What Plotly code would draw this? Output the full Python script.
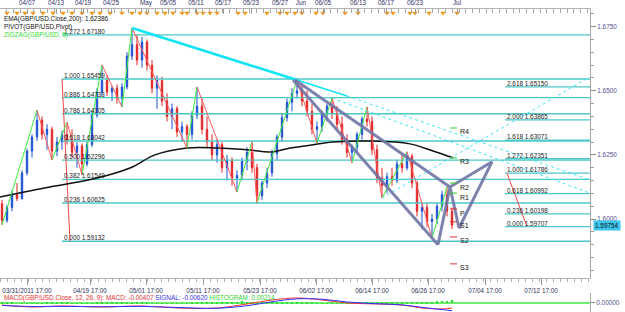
import plotly.graph_objects as go

# ---------------- data ----------------
bar_idx = list(range(91))
opens = [1.6060,1.5995,1.6045,1.6095,1.6080,1.6180,1.6265,1.6320,1.6385,1.6330,
         1.6350,1.6265,1.6300,1.6330,1.6305,1.6260,1.6285,1.6215,1.6290,1.6405,
         1.6495,1.6540,1.6495,1.6510,1.6470,1.6515,1.6635,1.6680,1.6620,1.6690,
         1.6600,1.6510,1.6540,1.6460,1.6400,1.6430,1.6340,1.6360,1.6330,1.6405,
         1.6440,1.6350,1.6300,1.6250,1.6290,1.6200,1.6230,1.6160,1.6170,1.6225,
         1.6260,1.6200,1.6090,1.6140,1.6180,1.6255,1.6320,1.6395,1.6455,1.6490,
         1.6500,1.6460,1.6420,1.6350,1.6360,1.6410,1.6440,1.6410,1.6370,1.6310,
         1.6260,1.6280,1.6330,1.6390,1.6380,1.6270,1.6160,1.6130,1.6165,1.6150,
         1.6215,1.6200,1.6245,1.6140,1.6030,1.6045,1.5990,1.6000,1.6050,1.6095,1.6030]
highs = [1.6075,1.6055,1.6110,1.6140,1.6190,1.6275,1.6330,1.6425,1.6400,1.6370,
         1.6360,1.6320,1.6345,1.6378,1.6350,1.6300,1.6295,1.6300,1.6420,1.6510,
         1.6601,1.6560,1.6520,1.6525,1.6530,1.6650,1.6745,1.6720,1.6710,1.6700,
         1.6620,1.6560,1.6555,1.6490,1.6450,1.6440,1.6380,1.6370,1.6420,1.6515,
         1.6470,1.6400,1.6330,1.6310,1.6300,1.6250,1.6240,1.6190,1.6240,1.6280,
         1.6300,1.6215,1.6150,1.6200,1.6270,1.6330,1.6410,1.6470,1.6510,1.6542,
         1.6530,1.6500,1.6450,1.6380,1.6420,1.6450,1.6472,1.6440,1.6400,1.6330,
         1.6290,1.6340,1.6400,1.6437,1.6400,1.6290,1.6200,1.6180,1.6200,1.6230,
         1.6250,1.6262,1.6255,1.6150,1.6060,1.6060,1.6020,1.6060,1.6110,1.6125,1.6045]
lows = [1.5977,1.5985,1.6030,1.6070,1.6075,1.6170,1.6240,1.6305,1.6310,1.6270,
        1.6230,1.6245,1.6270,1.6290,1.6240,1.6200,1.6172,1.6205,1.6280,1.6395,
        1.6480,1.6480,1.6460,1.6450,1.6437,1.6505,1.6620,1.6600,1.6590,1.6580,
        1.6490,1.6430,1.6440,1.6380,1.6350,1.6320,1.6300,1.6277,1.6310,1.6390,
        1.6330,1.6280,1.6230,1.6220,1.6180,1.6150,1.6130,1.6106,1.6150,1.6190,
        1.6180,1.6063,1.6075,1.6120,1.6165,1.6230,1.6300,1.6380,1.6420,1.6470,
        1.6440,1.6400,1.6330,1.6296,1.6340,1.6380,1.6390,1.6350,1.6290,1.6240,
        1.6219,1.6260,1.6310,1.6360,1.6250,1.6140,1.6082,1.6100,1.6130,1.6140,
        1.6180,1.6190,1.6120,1.6010,1.5960,1.5970,1.5926,1.5980,1.6030,1.6010,1.5960]
closes = [1.5995,1.6045,1.6095,1.6080,1.6180,1.6265,1.6320,1.6385,1.6330,1.6350,
          1.6265,1.6300,1.6330,1.6305,1.6260,1.6285,1.6215,1.6290,1.6405,1.6495,
          1.6540,1.6495,1.6510,1.6470,1.6515,1.6635,1.6680,1.6620,1.6690,1.6600,
          1.6510,1.6540,1.6460,1.6400,1.6430,1.6340,1.6360,1.6330,1.6405,1.6440,
          1.6350,1.6300,1.6250,1.6290,1.6200,1.6230,1.6160,1.6170,1.6225,1.6260,
          1.6200,1.6090,1.6140,1.6180,1.6255,1.6320,1.6395,1.6455,1.6490,1.6500,
          1.6460,1.6420,1.6350,1.6360,1.6410,1.6440,1.6410,1.6370,1.6310,1.6260,
          1.6280,1.6330,1.6390,1.6380,1.6270,1.6160,1.6130,1.6165,1.6150,1.6215,
          1.6200,1.6245,1.6140,1.6030,1.6045,1.5990,1.6000,1.6050,1.6095,1.6030,1.59754]

zz_idx = [0, 7, 10, 13, 16, 20, 24, 26, 37, 39, 47, 50, 51, 59, 63, 66, 70, 73, 76, 81, 86, 89]
zz_val = [1.5977, 1.6425, 1.6230, 1.6378, 1.6172, 1.6601, 1.6437, 1.6745, 1.6277, 1.6515, 1.6106,
          1.6300, 1.6063, 1.6542, 1.6296, 1.6472, 1.6219, 1.6437, 1.6082, 1.6262, 1.5926, 1.6125]

ema_idx = [-0.4, 9.6, 18.2, 25.6, 30.6, 37, 43, 49.6, 53.6, 57.6, 60.6, 66.2, 74.2, 81.6, 86.2, 90.2]
ema_val = [1.6086, 1.6125, 1.6156, 1.6199, 1.6250, 1.6277, 1.6277, 1.6269, 1.6261, 1.6277,
           1.6285, 1.6300, 1.6304, 1.6293, 1.6265, 1.62386]

fib_left_ratio = ["0.000", "0.236", "0.382", "0.500", "0.618", "0.786", "0.886", "1.000", "1.272"]
fib_left_price = [1.59132, 1.60625, 1.61549, 1.62296, 1.63042, 1.64105, 1.64733, 1.65459, 1.67180]
fib_left_start = 12
fib_left_anchor_idx = [12, 13.6]

fib_right_ratio = ["0.000", "0.236", "0.618", "1.000", "1.272", "1.618", "2.000", "2.618"]
fib_right_price = [1.59707, 1.60198, 1.60992, 1.61786, 1.62351, 1.63071, 1.63865, 1.65150]
fib_right_start = 100.6
fib_right_anchor_idx = [101, 105]

trend_idx = [26, 59, 69]
trend_val = [1.6745, 1.6542, 1.6480]
dot_a_idx = [69, 117.6]
dot_a_val = [1.6480, 1.6152]
dot_b_idx = [66, 117.6]
dot_b_val = [1.6472, 1.6101]
dot_up_idx = [76, 117.6]
dot_up_val = [1.6082, 1.6555]

chan_upper_idx = [58.6, 89.6]
chan_upper_val = [1.6542, 1.6125]
chan_lower_idx = [58.2, 87.2]
chan_lower_val = [1.6542, 1.5900]
pattern_idx = [87.2, 89.6, 91.4, 98.0, 89.6]
pattern_val = [1.5900, 1.6125, 1.5965, 1.6223, 1.6125]

pivot_names = ["R4", "R3", "R2", "R1", "P", "S1", "S2", "S3"]
pivot_vals = [1.6355, 1.6238, 1.6140, 1.6101, 1.6039, 1.5989, 1.5930, 1.5825]
pivot_span = [89.6, 91.0]

macd_idx = [0, 6, 12, 20, 28, 35, 43, 49, 54, 59, 64, 69, 75, 80, 84, 88, 90]
macd_val = [-0.0016, -0.0032, -0.0024, -0.0032, -0.0024, -0.0040, -0.0040, -0.0008, 0.0024, 0.0040,
            0.0024, 0.0000, -0.0008, -0.0016, -0.0040, -0.0048, -0.00407]
signal_val = [-0.0020, -0.0028, -0.0027, -0.0030, -0.0027, -0.0036, -0.0042, -0.0022, 0.0010, 0.0033,
              0.0030, 0.0008, -0.0006, -0.0015, -0.0035, -0.0052, -0.00620]
hist_val = [0.0004,0.0003,0.0002,0.0000,-0.0002,-0.0003,-0.0004,-0.0003,-0.0002,0.0001,
            0.0002,0.0003,0.0003,0.0001,-0.0001,-0.0002,-0.0003,-0.0002,-0.0001,0.0001,
            0.0002,0.0003,0.0004,0.0004,0.0003,0.0002,0.0003,0.0004,0.0003,0.0001,
            -0.0001,-0.0003,-0.0004,-0.0004,-0.0003,-0.0004,-0.0003,-0.0001,0.0001,0.0002,
            0.0002,0.0001,0.0002,0.0004,0.0006,0.0008,0.0010,0.0012,0.0013,0.0012,
            0.0011,0.0010,0.0009,0.0009,0.0008,0.0007,0.0006,0.0005,0.0005,0.0004,
            0.0003,0.0002,0.0001,-0.0001,-0.0003,-0.0004,-0.0005,-0.0005,-0.0004,-0.0003,
            -0.0002,-0.0001,0.0000,0.0001,0.0002,0.0003,0.0004,0.0004,0.0003,0.0004,
            0.0005,0.0005,0.0004,0.0005,0.0006,0.0008,0.0010,0.0013,0.0016,0.0019,0.00214]

bottom_tick_idx = [5.0, 17.6, 28.8, 40.2, 51.6, 62.8, 74, 85.2, 96.6, 107.8]
bottom_tick_text = ["03/31/2011 17:00", "04/19 17:00", "05/01 17:00", "05/11 17:00", "05/23 17:00",
                    "06/02 17:00", "06/14 17:00", "06/26 17:00", "07/04 17:00", "07/12 17:00"]
top_tick_idx = [5, 10.8, 16.2, 21.8, 28.8, 33.2, 38.8, 44.2, 49.8, 55.6, 59.8, 64.2, 71.2, 76.8, 82.6, 91]
top_tick_text = ["04/07", "04/13", "04/19", "04/25", "May", "05/05", "05/11", "05/17", "05/23",
                 "05/27", "Jun", "06/05", "06/13", "06/17", "06/23", "Jul"]
event_idx = [1, 3, 4.6, 6.2, 8.2, 10.2, 12.2, 14, 16, 18, 19.6, 21.6, 24, 26, 27.6, 29, 31, 32.6,
             34.2, 36, 37, 39, 40.2, 41.6, 43, 47.2, 48.6, 53, 55.6, 57, 58.6, 60, 62.8, 64.2,
             68.6, 71.2, 77, 78.2, 81.6, 82.6, 85.4, 88.2, 91]

# ---------------- styling ----------------
X_RANGE = [-0.4, 117.6]
FONT = "Liberation Sans"
FS = 6.4
FIB_COLOR = "#4cc8c8"
NAVY = "#3c3c78"

fig = go.Figure()

def seg(xs, ys, color, width, dash="solid", xa="x", ya="y", shape="linear"):
    fig.add_trace(go.Scatter(x=xs, y=ys, mode="lines", xaxis=xa, yaxis=ya,
                             line=dict(color=color, width=width, dash=dash, shape=shape),
                             hoverinfo="skip", showlegend=False))

# fib levels
for p in fib_left_price:
    seg([fib_left_start, X_RANGE[1]], [p, p], FIB_COLOR, 1.3)
for p in fib_right_price:
    seg([fib_right_start, X_RANGE[1]], [p, p], FIB_COLOR, 1.3)
seg(fib_left_anchor_idx, [fib_left_price[7], fib_left_price[0]], "#f04848", 1)
seg(fib_right_anchor_idx, [fib_right_price[3], fib_right_price[0]], "#f04848", 1)

# EMA 200
seg(ema_idx, ema_val, "#111111", 1.5, shape="spline")

# candles
fig.add_trace(go.Candlestick(
    x=bar_idx, open=opens, high=highs, low=lows, close=closes,
    increasing=dict(line=dict(color="#1f50d0", width=1), fillcolor="#1f50d0"),
    decreasing=dict(line=dict(color="#e22424", width=1), fillcolor="#e22424"),
    whiskerwidth=0, hoverinfo="skip", showlegend=False))

# zigzag
up_x, up_y, dn_x, dn_y = [], [], [], []
for i in range(len(zz_idx) - 1):
    if zz_val[i + 1] > zz_val[i]:
        up_x += [zz_idx[i], zz_idx[i + 1], None]
        up_y += [zz_val[i], zz_val[i + 1], None]
    else:
        dn_x += [zz_idx[i], zz_idx[i + 1], None]
        dn_y += [zz_val[i], zz_val[i + 1], None]
seg(up_x, up_y, "#3cee3c", 1)
seg(dn_x, dn_y, "#ff5a5a", 1)

# cyan trend lines
seg(trend_idx[:2], trend_val[:2], "#12e4f4", 2.6)
seg(trend_idx[1:], trend_val[1:], "#12e4f4", 1.6)
seg(dot_a_idx, dot_a_val, "#40e4f4", 1, dash="dot")
seg(dot_b_idx, dot_b_val, "#40e4f4", 1, dash="dot")
seg(dot_up_idx, dot_up_val, "#40e4f4", 1, dash="dot")

# harmonic pattern / channel
GRAY = "rgba(112,118,165,0.9)"
seg(chan_upper_idx, chan_upper_val, GRAY, 3)
seg(chan_lower_idx, chan_lower_val, GRAY, 3)
seg(pattern_idx, pattern_val, GRAY, 3)

# pivots
for name, v in zip(pivot_names, pivot_vals):
    col = "#33cc33" if name.startswith("R") else "#e23030"
    seg(pivot_span, [v, v], col, 1)

# MACD panel
fig.add_trace(go.Bar(x=bar_idx, y=hist_val, xaxis="x3", yaxis="y2", width=0.3,
                     marker=dict(color="#33dd33", line=dict(width=0)),
                     hoverinfo="skip", showlegend=False))
seg(macd_idx, macd_val, "#ff3030", 1, xa="x3", ya="y2", shape="spline")
seg(macd_idx, signal_val, "#3030ff", 1, xa="x3", ya="y2", shape="spline")

# event markers in the top strip
fig.add_trace(go.Scatter(x=event_idx, y=[0.985] * len(event_idx), xaxis="x2", yaxis="y3",
                         mode="markers", marker=dict(symbol="triangle-down", size=5, color="#f39a1c"),
                         hoverinfo="skip", showlegend=False))

annotations = []
for r, p in zip(fib_left_ratio, fib_left_price):
    annotations.append(dict(x=fib_left_start, y=p, xref="x", yref="y", text=f"{r} {p:.5f}",
                            xanchor="left", yanchor="bottom", showarrow=False, yshift=-2,
                            font=dict(size=FS, color="#222222")))
for r, p in zip(fib_right_ratio, fib_right_price):
    annotations.append(dict(x=fib_right_start, y=p, xref="x", yref="y", text=f"{r} {p:.5f}",
                            xanchor="left", yanchor="bottom", showarrow=False, yshift=-2,
                            font=dict(size=FS, color="#222222")))
for name, v in zip(pivot_names, pivot_vals):
    annotations.append(dict(x=pivot_span[1], y=v, xref="x", yref="y", text=name, xanchor="left",
                            yanchor="middle", yshift=-4, xshift=1, showarrow=False,
                            font=dict(size=7, color="#111111")))

legend_lines = [("EMA(GBP/USD.Close,200): 1.62386", "#111111", 0.939),
                ("PIVOT(GBP/USD,Pivot)", "#111111", 0.913),
                ("ZIGZAG(GBP/USD, 5)", "#33dd33", 0.887)]
for txt, col, yy in legend_lines:
    annotations.append(dict(x=0.003, y=yy, xref="paper", yref="paper", text=txt, xanchor="left",
                            yanchor="middle", showarrow=False, font=dict(size=FS, color=col)))

annotations.append(dict(
    x=0.003, y=0.045, xref="paper", yref="paper", xanchor="left", yanchor="middle", showarrow=False,
    font=dict(size=FS),
    text=("<span style='color:#e83030'>MACD(GBP/USD.Close, 12, 26, 9): MACD: -0.00407</span> "
          "<span style='color:#3030e8'>SIGNAL: -0.00620</span> "
          "<span style='color:#30d030'>HISTOGRAM: 0.00214</span>")))

annotations.append(dict(x=1, y=closes[-1], xref="paper", yref="y", text=f"{closes[-1]:.5f}",
                        xanchor="left", yanchor="middle", xshift=3, showarrow=False,
                        bgcolor="#3cc6ee", borderpad=1, font=dict(size=FS, color="#111111")))

MAIN_DOMAIN = [0.109, 0.9712]

fig.update_layout(
    width=625, height=312,
    margin=dict(l=0, r=35, t=0, b=0),
    paper_bgcolor="white", plot_bgcolor="white",
    font=dict(family=FONT, size=FS, color=NAVY),
    showlegend=False, boxgap=0.6, bargap=0,
    annotations=annotations,
    xaxis=dict(domain=[0, 1], range=X_RANGE, anchor="y", rangeslider=dict(visible=False),
               showgrid=False, zeroline=False, showline=True, linecolor="#b4b4b4",
               tickmode="array", tickvals=bottom_tick_idx, ticktext=bottom_tick_text,
               ticks="outside", ticklen=6, tickcolor="#9a9a9a", ticklabeloverflow="allow",
               tickfont=dict(size=FS, color="#333355"),
               minor=dict(dtick=1.4, tick0=-0.4, ticks="outside", ticklen=3, tickcolor="#b0b0b0")),
    xaxis2=dict(overlaying="x", side="top", anchor="y3", range=X_RANGE, showgrid=False,
                zeroline=False, showline=True, linecolor="#b4b4b4",
                tickmode="array", tickvals=top_tick_idx, ticktext=top_tick_text,
                ticks="inside", ticklen=5, tickcolor="#9a9a9a",
                tickfont=dict(size=FS, color="#333366"),
                minor=dict(dtick=1.35, tick0=-0.4, ticks="inside", ticklen=4, tickcolor="#a8a8a8")),
    xaxis3=dict(domain=[0, 1], range=X_RANGE, anchor="y2", showgrid=False, zeroline=False,
                showticklabels=False, ticks="", showline=False),
    yaxis=dict(domain=MAIN_DOMAIN, range=[1.5770, 1.6819], side="right", anchor="x",
               showgrid=False, zeroline=False, showline=True, linecolor="#a8a8a8",
               tick0=1.6, dtick=0.025, tickformat=".4f", ticks="outside", ticklen=5,
               tickcolor="#888888", tickfont=dict(size=FS, color="#50508a"),
               minor=dict(dtick=0.005, ticks="outside", ticklen=3, tickcolor="#999999")),
    yaxis3=dict(domain=MAIN_DOMAIN, range=[0, 1], overlaying="y", visible=False),
    yaxis2=dict(domain=[0, 0.061], range=[-0.0072, 0.008], side="right", anchor="x3",
                showgrid=False, zeroline=True, zerolinecolor="#70ee70", zerolinewidth=1.5,
                showline=True, linecolor="#a8a8a8", tickmode="array", tickvals=[0],
                ticktext=["0.00000"], ticks="outside", ticklen=4, tickcolor="#888888",
                tickfont=dict(size=FS, color="#50508a")),
)

fig.write_html("out.html")
